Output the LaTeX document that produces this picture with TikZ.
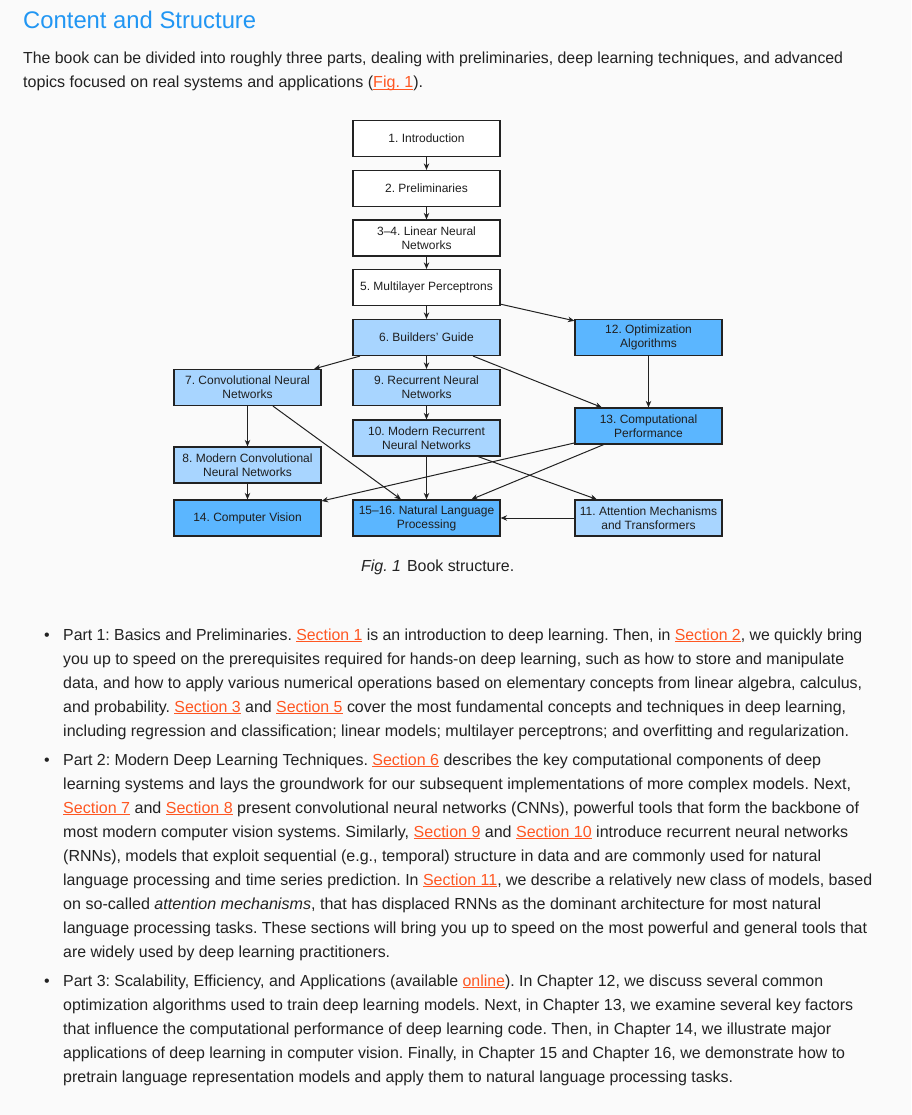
\documentclass[tikz,border=0pt]{standalone}
\usepackage{fontspec}
\setmainfont{Liberation Sans}
\usepackage{graphicx}
\usetikzlibrary{arrows.meta}
\definecolor{bg}{HTML}{FAFAFA}
\definecolor{txt}{HTML}{222222}
\definecolor{head}{HTML}{2196F3}
\definecolor{lnkc}{HTML}{FF5722}
\definecolor{lightb}{HTML}{A8D5FF}
\definecolor{darkb}{HTML}{5BB6FF}
\definecolor{edge}{HTML}{222222}
\newcommand\lnk[1]{{\color{lnkc}\setbox0\hbox{#1}\rlap{\rule[-2.2pt]{\wd0}{0.9pt}}\box0}}
\newcommand\tline[5]{\node[bodytext] (#1) at (#2,#3) {\resizebox{#4pt}{\height}{#5}};}
\frenchspacing
\begin{document}
\begin{tikzpicture}[x=1pt,y=-1pt,
 box/.style={draw=edge, line width=1.2pt, minimum width=147pt, minimum height=36pt, inner sep=0pt, align=center, font=\fontsize{12}{14}\selectfont, text=black!88},
 plain/.style={box, fill=white},
 light/.style={box, fill=lightb},
 dark/.style={box, fill=darkb},
 arr/.style={-{Stealth[length=6.5pt,width=5.5pt]}, line width=1pt, draw=edge},
 bodytext/.style={anchor=base west, inner sep=0pt, text=txt, font=\fontsize{16}{24}\selectfont},
 bul/.style={anchor=base, inner sep=0pt, text=txt, font=\fontsize{16}{24}\selectfont}]
\fill[bg] (0,0) rectangle (911,1115);
\useasboundingbox (0,0) rectangle (911,1115);

% heading and intro
\node[anchor=base west, inner sep=0pt, text=head, font=\fontsize{24}{28}\selectfont] (title) at (23,29) {\resizebox{233pt}{\height}{Content and Structure}};
\tline{i1}{23}{64}{820}{The book can be divided into roughly three parts, dealing with preliminaries, deep learning techniques, and advanced}
\tline{i2}{23}{88}{400}{topics focused on real systems and applications (\lnk{Fig.~1}).}

% diagram
\node[plain] (n1) at (426.5,138.5) {1. Introduction};
\node[plain] (n2) at (426.5,188.5) {2. Preliminaries};
\node[plain] (n3) at (426.5,238) {3--4. Linear Neural\\Networks};
\node[plain] (n5) at (426.5,287.5) {5. Multilayer Perceptrons};
\node[light] (n6) at (426.5,337.5) {6. Builders' Guide};
\node[dark] (n12) at (648.5,337.5) {12. Optimization\\Algorithms};
\node[light] (n7) at (247.5,387.5) {7. Convolutional Neural\\Networks};
\node[light] (n9) at (426.5,387.5) {9. Recurrent Neural\\Networks};
\node[dark] (n13) at (648.5,426) {13. Computational\\Performance};
\node[light] (n10) at (426.5,438) {10. Modern Recurrent\\Neural Networks};
\node[light] (n8) at (247.5,465) {8. Modern Convolutional\\Neural Networks};
\node[dark] (n14) at (247.5,518) {14. Computer Vision};
\node[dark] (n15) at (426.5,518) {15--16. Natural Language\\Processing};
\node[light] (n11) at (648.5,518) {11. Attention Mechanisms\\and Transformers};

\draw[arr] (n1) -- (n2);
\draw[arr] (n2) -- (n3);
\draw[arr] (n3) -- (n5);
\draw[arr] (n5) -- (n6);
\draw[arr] (n5) -- (n12);
\draw[arr] (n6) -- (n7);
\draw[arr] (n6) -- (n9);
\draw[arr] (n6) -- (n13);
\draw[arr] (n12) -- (n13);
\draw[arr] (n7) -- (n8);
\draw[arr] (n7) -- (n15);
\draw[arr] (n9) -- (n10);
\draw[arr] (n10) -- (n15);
\draw[arr] (n10) -- (n11);
\draw[arr] (n13) -- (n14);
\draw[arr] (n13) -- (n15);
\draw[arr] (n8) -- (n14);
\draw[arr] (n11) -- (n15);

\node[bodytext] (cap) at (361,571) {\resizebox{153pt}{\height}{\textit{Fig. 1}\hspace{6pt}Book structure.}};

% Part 1
\node[bul] (b1) at (47,640) {•};
\tline{a1}{63}{640}{799}{Part 1: Basics and Preliminaries. \lnk{Section 1} is an introduction to deep learning. Then, in \lnk{Section 2}, we quickly bring}
\tline{a2}{63}{664}{781}{you up to speed on the prerequisites required for hands-on deep learning, such as how to store and manipulate}
\tline{a3}{63}{688}{799}{data, and how to apply various numerical operations based on elementary concepts from linear algebra, calculus,}
\tline{a4}{63}{712}{783}{and probability. \lnk{Section 3} and \lnk{Section 5} cover the most fundamental concepts and techniques in deep learning,}
\tline{a5}{63}{736}{786}{including regression and classification; linear models; multilayer perceptrons; and overfitting and regularization.}

% Part 2
\node[bul] (b2) at (47,765) {•};
\tline{c1}{63}{765}{758}{Part 2: Modern Deep Learning Techniques. \lnk{Section 6} describes the key computational components of deep}
\tline{c2}{63}{789}{788}{learning systems and lays the groundwork for our subsequent implementations of more complex models. Next,}
\tline{c3}{63}{813}{796}{\lnk{Section 7} and \lnk{Section 8} present convolutional neural networks (CNNs), powerful tools that form the backbone of}
\tline{c4}{63}{837}{785}{most modern computer vision systems. Similarly, \lnk{Section 9} and \lnk{Section 10} introduce recurrent neural networks}
\tline{c5}{63}{861}{758}{(RNNs), models that exploit sequential (e.g., temporal) structure in data and are commonly used for natural}
\tline{c6}{63}{885}{809}{language processing and time series prediction. In \lnk{Section 11}, we describe a relatively new class of models, based}
\tline{c7}{63}{909}{758}{on so-called \textit{attention mechanisms}, that has displaced RNNs as the dominant architecture for most natural}
\tline{c8}{63}{933}{804}{language processing tasks. These sections will bring you up to speed on the most powerful and general tools that}
\tline{c9}{63}{957}{327}{are widely used by deep learning practitioners.}

% Part 3
\node[bul] (b3) at (47,986) {•};
\tline{d1}{63}{986}{760}{Part 3: Scalability, Efficiency, and Applications (available \lnk{online}). In Chapter 12, we discuss several common}
\tline{d2}{63}{1010}{790}{optimization algorithms used to train deep learning models. Next, in Chapter 13, we examine several key factors}
\tline{d3}{63}{1034}{768}{that influence the computational performance of deep learning code. Then, in Chapter 14, we illustrate major}
\tline{d4}{63}{1058}{782}{applications of deep learning in computer vision. Finally, in Chapter 15 and Chapter 16, we demonstrate how to}
\tline{d5}{63}{1082}{670}{pretrain language representation models and apply them to natural language processing tasks.}
\end{tikzpicture}
\end{document}
